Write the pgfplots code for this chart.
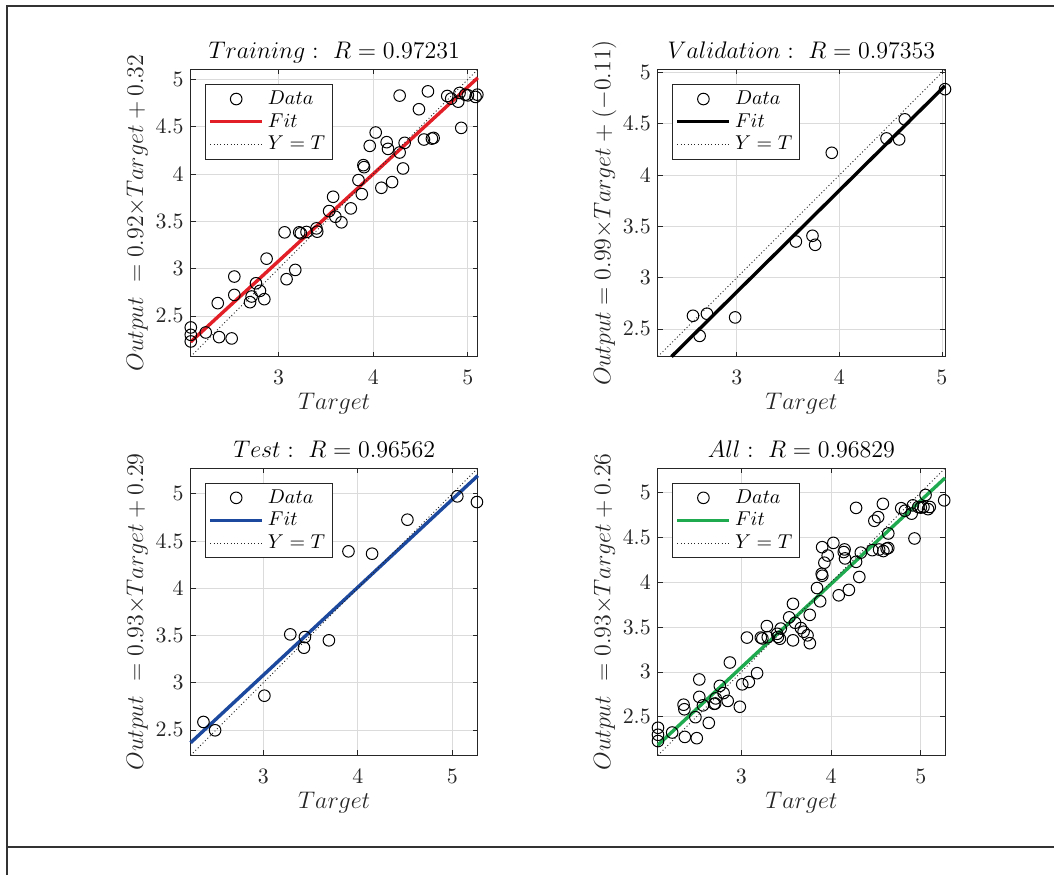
\documentclass[border=0pt]{standalone}
\usepackage{pgfplots}
\pgfplotsset{compat=1.18}
\usepackage{pgfplotstable}

\definecolor{axgray}{rgb}{0.15,0.15,0.15}
\definecolor{gridgray}{rgb}{0.86,0.86,0.86}
\definecolor{fitred}{RGB}{226,30,38}
\definecolor{fitblue}{RGB}{28,72,158}
\definecolor{fitgreen}{RGB}{32,170,80}

% Training targets / network outputs
\pgfplotstableread{
t y
2.072 2.378
2.072 2.300
2.072 2.230
2.230 2.325
2.357 2.635
2.371 2.276
2.504 2.262
2.532 2.916
2.532 2.722
2.698 2.645
2.715 2.705
2.761 2.845
2.803 2.765
2.849 2.677
2.873 3.105
3.063 3.383
3.084 2.888
3.176 2.986
3.218 3.383
3.235 3.373
3.295 3.387
3.400 3.425
3.408 3.390
3.534 3.608
3.576 3.759
3.600 3.548
3.664 3.489
3.763 3.636
3.844 3.935
3.879 3.787
3.896 4.093
3.903 4.072
3.963 4.297
4.026 4.438
4.086 3.854
4.142 4.336
4.156 4.265
4.199 3.914
4.279 4.828
4.279 4.227
4.315 4.058
4.332 4.329
4.483 4.684
4.536 4.364
4.578 4.873
4.620 4.374
4.638 4.381
4.782 4.824
4.824 4.796
4.898 4.764
4.912 4.856
4.930 4.487
4.972 4.838
5.000 4.831
5.081 4.814
5.100 4.838
}\trainpts

% Validation targets / network outputs
\pgfplotstableread{
t y
2.573 2.628
2.638 2.432
2.709 2.648
2.984 2.612
3.576 3.352
3.738 3.408
3.764 3.320
3.926 4.217
4.460 4.357
4.583 4.347
4.638 4.543
5.030 4.837
}\valpts

% Test targets / network outputs
\pgfplotstableread{
t y
2.366 2.584
2.489 2.496
3.011 2.862
3.285 3.511
3.430 3.370
3.440 3.483
3.694 3.448
3.901 4.390
4.151 4.365
4.525 4.725
5.053 4.972
5.261 4.912
}\testpts

\pgfplotsset{
  regstyle/.style={
    scale only axis, width=143.6pt, height=143.6pt,
    anchor=south west, clip=false,
    axis line style={axgray, line width=0.5pt},
    tick align=inside, tick pos=both,
    major tick length=2.5pt,
    every tick/.style={axgray, line width=0.4pt},
    grid=major, major grid style={gridgray, line width=0.4pt},
    xtick={3,4,5}, ytick={2.5,3,3.5,4,4.5,5},
    ticklabel style={font=\fontsize{10.5}{12}\selectfont, text=axgray},
    xticklabel style={yshift=-3.5pt},
    every axis title shift=0pt,
    title style={at={(axis description cs:0.5,1.0375)}, anchor=base,
      font=\fontsize{12}{14}\selectfont},
    xlabel style={at={(axis description cs:0.5,-0.184)}, anchor=base,
      font=\fontsize{12}{14}\selectfont, text=axgray},
    ylabel style={at={(axis description cs:-0.1655,0.5)}, anchor=base,
      font=\fontsize{12}{14}\selectfont, text=axgray},
    xlabel={$Target$},
    legend style={at={(axis description cs:0,1)}, anchor=north west,
      xshift=7.2pt, yshift=-7.2pt, draw=axgray, line width=0.5pt,
      fill=white, font=\fontsize{10}{12}\selectfont,
      inner xsep=1.5pt, inner ysep=1.2pt, row sep=-1pt,
      cells={anchor=west}},
    legend image code/.code={%
      \draw[mark repeat=2,mark phase=2,##1]
        plot coordinates {(0pt,0pt) (13pt,0pt) (26pt,0pt)};},
  },
  datastyle/.style={only marks, mark=o, mark size=2.9pt,
    mark options={line width=0.5pt, black}},
  idstyle/.style={black!85, line width=0.45pt, dash pattern=on 0.5pt off 1.2pt},
  fitstyle/.style={line width=1.7pt},
}

\begin{document}
\begin{tikzpicture}
\useasboundingbox (0pt,0pt) rectangle (527pt,437.5pt);

% Training
\begin{axis}[regstyle, at={(95.3pt,259.2pt)},
  xmin=2.07, xmax=5.105, ymin=2.07, ymax=5.105,
  title={$Training:\ R=0.97231$},
  ylabel={$Output~=0.92{\times}Target+0.32$}]
\addplot[datastyle] table[x=t,y=y] {\trainpts};
\addlegendentry{$Data$}
\addplot[fitstyle, fitred] coordinates {(2.07,2.2244) (5.105,5.0166)};
\addlegendentry{$Fit$}
\addplot[idstyle] coordinates {(2.07,2.07) (5.105,5.105)};
\addlegendentry{$Y=T$}
\end{axis}

% Validation
\begin{axis}[regstyle, at={(328.9pt,259.2pt)},
  xmin=2.23, xmax=5.03, ymin=2.23, ymax=5.03,
  title={$Validation:\ R=0.97353$},
  ylabel={$Output=0.99{\times}Target+(-0.11)$}]
\addplot[datastyle] table[x=t,y=y] {\valpts};
\addlegendentry{$Data$}
\addplot[fitstyle, black] coordinates {(2.3636,2.23) (5.03,4.8697)};
\addlegendentry{$Fit$}
\addplot[idstyle] coordinates {(2.23,2.23) (5.03,5.03)};
\addlegendentry{$Y=T$}
\end{axis}

% Test
\begin{axis}[regstyle, at={(95.3pt,59.8pt)},
  xmin=2.23, xmax=5.27, ymin=2.23, ymax=5.27,
  title={$Test:\ R=0.96562$},
  ylabel={$Output~=0.93{\times}Target+0.29$}]
\addplot[datastyle] table[x=t,y=y] {\testpts};
\addlegendentry{$Data$}
\addplot[fitstyle, fitblue] coordinates {(2.23,2.3639) (5.27,5.1911)};
\addlegendentry{$Fit$}
\addplot[idstyle] coordinates {(2.23,2.23) (5.27,5.27)};
\addlegendentry{$Y=T$}
\end{axis}

% All
\begin{axis}[regstyle, at={(328.9pt,59.8pt)},
  xmin=2.07, xmax=5.27, ymin=2.07, ymax=5.27,
  title={$All:\ R=0.96829$},
  ylabel={$Output~=0.93{\times}Target+0.26$}]
\addplot[datastyle] table[x=t,y=y] {\trainpts};
\addlegendentry{$Data$}
\addplot[datastyle, forget plot] table[x=t,y=y] {\valpts};
\addplot[datastyle, forget plot] table[x=t,y=y] {\testpts};
\addplot[fitstyle, fitgreen] coordinates {(2.07,2.1851) (5.27,5.1611)};
\addlegendentry{$Fit$}
\addplot[idstyle] coordinates {(2.07,2.07) (5.27,5.27)};
\addlegendentry{$Y=T$}
\end{axis}

% enclosing frame
\draw[line width=0.8pt, black!80] (3.5pt,0pt) -- (3.5pt,434.5pt) -- (527pt,434.5pt);
\draw[line width=0.8pt, black!80] (3.5pt,14pt) -- (527pt,14pt);
\end{tikzpicture}
\end{document}
